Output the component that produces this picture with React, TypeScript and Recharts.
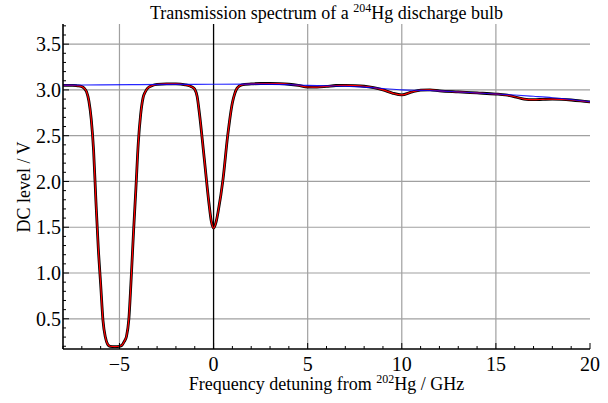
import { LineChart, Line, XAxis, YAxis, ReferenceLine } from 'recharts';

const FONT = '"Liberation Serif", "Times New Roman", serif';

// detuning (GHz) and measured DC level (V)
const freq = [
  -8, -7.5, -7.25, -7, -6.875, -6.75, -6.625, -6.5, -6.375, -6.25, -6.125, -6, -5.875, -5.75,
  -5.625, -5.5, -5.25, -5, -4.875, -4.75, -4.625, -4.5, -4.375, -4.25, -4.125, -4, -3.875, -3.75,
  -3.625, -3.5, -3.25, -3, -2.5, -2, -1.5, -1.25, -1.125, -1, -0.875, -0.75, -0.5, -0.25, -0.125, 0,
  0.125, 0.25, 0.5, 0.75, 1, 1.125, 1.25, 1.5, 2, 2.5, 3, 3.5, 4, 4.5, 5, 5.5, 6, 6.5, 7, 7.5, 8,
  8.5, 9, 9.5, 10, 10.5, 11, 11.5, 12, 13, 14, 15, 15.5, 16, 16.5, 17, 17.5, 18, 18.5, 19, 19.5, 20,
];
const measured = [
  3.05, 3.05, 3.045, 3.036, 3.018, 2.98, 2.88, 2.68, 2.34, 1.78, 1.27, 0.88, 0.48, 0.3,
  0.22, 0.2, 0.195, 0.2, 0.21, 0.25, 0.31, 0.5, 0.95, 1.46, 1.93, 2.42, 2.73, 2.91,
  2.98, 3.02, 3.048, 3.06, 3.065, 3.065, 3.055, 3.042, 3.03, 3.008, 2.93, 2.74, 2.26, 1.77, 1.57, 1.49,
  1.55, 1.68, 2.02, 2.5, 2.86, 2.96, 3.02, 3.055, 3.065, 3.07, 3.07, 3.068, 3.062, 3.05, 3.032, 3.03, 3.038, 3.048, 3.05, 3.047, 3.04,
  3.025, 3.0, 2.965, 2.945, 2.975, 2.998, 3.0, 2.99, 2.978, 2.967, 2.955, 2.945, 2.925, 2.9, 2.893, 2.897, 2.9, 2.897, 2.89, 2.88, 2.868,
];

// background (no absorption) curve
const baseFreq = [-8, -6, -4, -2, 0, 2, 4, 5, 6, 7, 8, 9, 10, 11, 12, 13, 14, 15, 16, 17, 18, 19, 20];
const baseline = [
  3.052, 3.055, 3.058, 3.06, 3.062, 3.063, 3.058, 3.05, 3.045, 3.04, 3.03, 3.015, 3.0, 2.995,
  2.99, 2.978, 2.967, 2.955, 2.944, 2.93, 2.915, 2.895, 2.87,
];

const xMajorTicks = [-5, 0, 5, 10, 15, 20];
const xMinorTicks = [
  -8, -7, -6, -5, -4, -3, -2, -1, 0, 1, 2, 3, 4, 5, 6, 7, 8, 9, 10, 11, 12, 13, 14, 15, 16, 17, 18, 19, 20,
];
const yMajorTicks = [0.5, 1.0, 1.5, 2.0, 2.5, 3.0, 3.5];
const yMinorTicks = [
  0.2, 0.3, 0.4, 0.5, 0.6, 0.7, 0.8, 0.9, 1.0, 1.1, 1.2, 1.3, 1.4, 1.5, 1.6, 1.7, 1.8, 1.9, 2.0,
  2.1, 2.2, 2.3, 2.4, 2.5, 2.6, 2.7, 2.8, 2.9, 3.0, 3.1, 3.2, 3.3, 3.4, 3.5, 3.6, 3.7,
];

const spectrum = freq.map((f, i) => ({ f, v: measured[i] }));
const background = baseFreq.map((f, i) => ({ f, v: baseline[i] }));

const isMajor = (list: number[], v: number) => list.some((t) => Math.abs(t - v) < 1e-6);
const fmtX = (v: number) => (v < 0 ? `\u2212${Math.abs(v)}` : `${v}`);

function BottomTick({ x, y, payload }: any) {
  const major = isMajor(xMajorTicks, payload.value);
  return (
    <g>
      <line x1={x} y1={y} x2={x} y2={y - (major ? 6 : 3)} stroke="#000" />
      {major && (
        <text x={x} y={y + 8} dy="0.71em" textAnchor="middle" fontFamily={FONT} fontSize={20} fill="#000">
          {fmtX(payload.value)}
        </text>
      )}
    </g>
  );
}

function TopTick({ x, y, payload }: any) {
  const major = isMajor(xMajorTicks, payload.value);
  return <line x1={x} y1={y} x2={x} y2={y + (major ? 6 : 3)} stroke="#000" />;
}

function LeftTick({ x, y, payload }: any) {
  const major = isMajor(yMajorTicks, payload.value);
  return (
    <g>
      <line x1={x} y1={y} x2={x + (major ? 6 : 3)} y2={y} stroke="#000" />
      {major && (
        <text x={x - 2} y={y} dy="0.355em" textAnchor="end" fontFamily={FONT} fontSize={20} fill="#000">
          {payload.value.toFixed(1)}
        </text>
      )}
    </g>
  );
}

function RightTick({ x, y, payload }: any) {
  const major = isMajor(yMajorTicks, payload.value);
  return <line x1={x} y1={y} x2={x - (major ? 6 : 3)} y2={y} stroke="#000" />;
}

const frame = { stroke: '#000', strokeWidth: 1.6 };

export default function App() {
  return (
    <div style={{ position: 'absolute', left: 0, top: 0, width: 608, height: 403, background: '#fff' }}>
      <LineChart width={608} height={403} margin={{ top: 24, right: 18, bottom: 0, left: 0 }}>
        <XAxis
          xAxisId="b"
          dataKey="f"
          type="number"
          domain={[-8, 20]}
          allowDataOverflow
          ticks={xMinorTicks}
          interval={0}
          height={54}
          tickSize={0}
          tickMargin={0}
          tickLine={false}
          axisLine={frame}
          tick={<BottomTick />}
        />
        <XAxis
          xAxisId="t"
          orientation="top"
          dataKey="f"
          type="number"
          domain={[-8, 20]}
          allowDataOverflow
          ticks={xMinorTicks}
          interval={0}
          height={0}
          tickSize={0}
          tickMargin={0}
          tickLine={false}
          axisLine={frame}
          tick={<TopTick />}
        />
        <YAxis
          yAxisId="l"
          type="number"
          domain={[0.17, 3.72]}
          allowDataOverflow
          ticks={yMinorTicks}
          interval={0}
          width={63}
          tickSize={0}
          tickMargin={0}
          tickLine={false}
          axisLine={frame}
          tick={<LeftTick />}
        />
        <YAxis
          yAxisId="r"
          orientation="right"
          type="number"
          domain={[0.17, 3.72]}
          allowDataOverflow
          ticks={yMinorTicks}
          interval={0}
          width={0}
          tickSize={0}
          tickMargin={0}
          tickLine={false}
          axisLine={frame}
          tick={<RightTick />}
        />
        {xMajorTicks
          .filter((t) => t !== 0 && t !== 20)
          .map((t) => (
            <ReferenceLine key={`gx${t}`} x={t} xAxisId="b" yAxisId="l" stroke="#a0a0a0" strokeWidth={1.2} />
          ))}
        {yMajorTicks.map((t) => (
          <ReferenceLine key={`gy${t}`} y={t} xAxisId="b" yAxisId="l" stroke="#a0a0a0" strokeWidth={1.2} />
        ))}
        <ReferenceLine x={0} xAxisId="b" yAxisId="l" stroke="#000" strokeWidth={1.3} />
        <Line
          data={spectrum}
          xAxisId="b"
          yAxisId="l"
          dataKey="v"
          type="monotone"
          stroke="#000"
          strokeWidth={2.8}
          dot={false}
          isAnimationActive={false}
        />
        <Line
          data={spectrum}
          xAxisId="b"
          yAxisId="l"
          dataKey="v"
          type="monotone"
          stroke="#ff0000"
          strokeWidth={1.2}
          dot={false}
          isAnimationActive={false}
        />
        <Line
          data={background}
          xAxisId="b"
          yAxisId="l"
          dataKey="v"
          type="monotone"
          stroke="#0000ff"
          strokeOpacity={0.85}
          strokeWidth={1.1}
          dot={false}
          isAnimationActive={false}
        />
        <text x={326.5} y={19} textAnchor="middle" fontFamily={FONT} fontSize={18} fill="#000">
          Transmission spectrum of a{' '}
          <tspan dy={-7} fontSize={12}>204</tspan>
          <tspan dy={7}>Hg discharge bulb</tspan>
        </text>
        <text x={326.5} y={390} textAnchor="middle" fontFamily={FONT} fontSize={18} fill="#000">
          Frequency detuning from{' '}
          <tspan dy={-7} fontSize={12}>202</tspan>
          <tspan dy={7}>Hg / GHz</tspan>
        </text>
        <text
          x={30}
          y={187}
          transform="rotate(-90 30 187)"
          textAnchor="middle"
          fontFamily={FONT}
          fontSize={18}
          fill="#000"
        >
          DC level / V
        </text>
      </LineChart>
    </div>
  );
}
